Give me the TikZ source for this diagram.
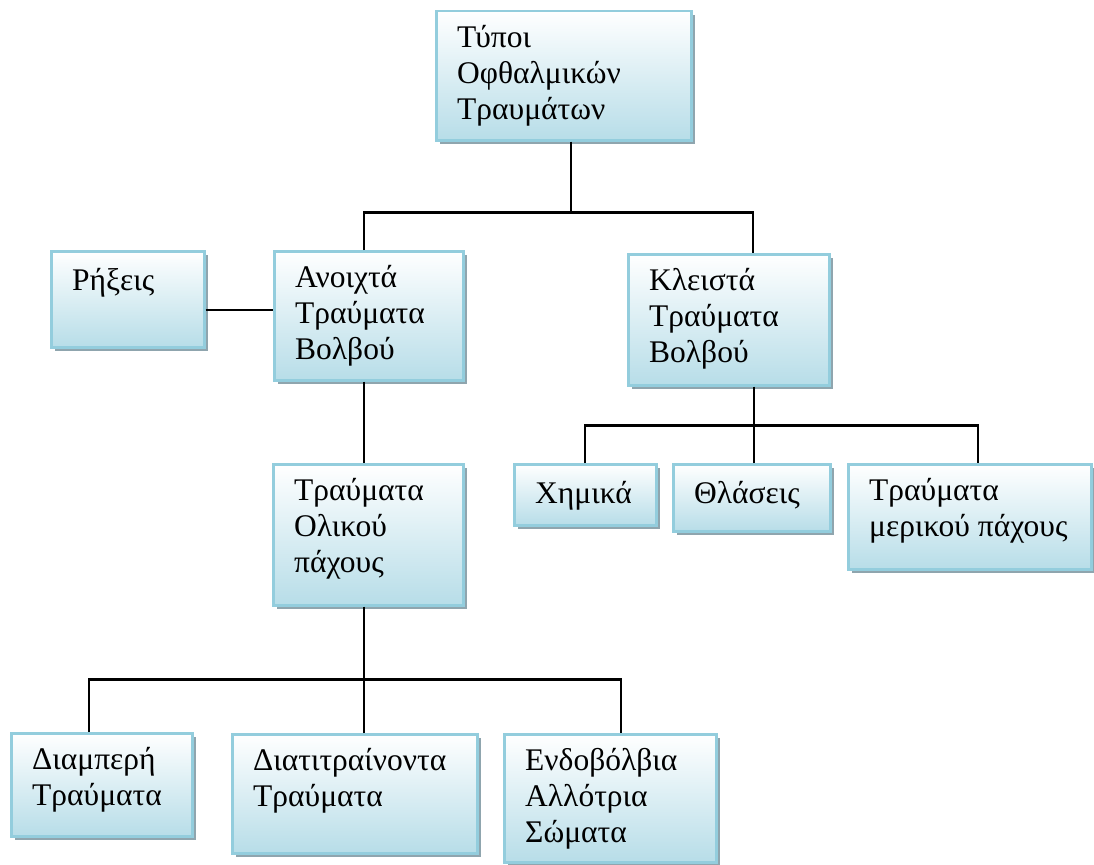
\documentclass[tikz,border=0pt]{standalone}
\usepackage{fontspec}
\setmainfont{Liberation Serif}
\usetikzlibrary{shadows}
\definecolor{boxline}{HTML}{93CDDD}
\definecolor{boxfill}{HTML}{B7DDE8}
\definecolor{boxshadow}{HTML}{8FA5AE}
\begin{document}
\begin{tikzpicture}[
    x=1pt, y=-1pt,
    box/.style={rectangle, draw=boxline, line width=2.5pt, top color=white, bottom color=boxfill, anchor=north west, inner sep=0pt,
        drop shadow={shadow xshift=4pt, shadow yshift=-4pt, fill=boxshadow, opacity=1}},
    txt/.style={anchor=north west, align=left, inner sep=0pt, xshift=22pt, yshift=-14.8pt,
        font=\fontsize{31.5}{36}\selectfont, execute at begin node={\rule{0pt}{25.2pt}}},
    link/.style={draw=black, line width=2.2pt}
]
\useasboundingbox (0,0) rectangle (1094,864);

% Root
\node[box, minimum width=255pt, minimum height=129pt, label={[txt]north west:Τύποι\\Οφθαλμικών\\Τραυμάτων}] (top) at (435,10) {};

% Second level
\node[box, minimum width=153pt, minimum height=96pt, label={[txt]north west:Ρήξεις}] (rupt) at (50,250) {};
\node[box, minimum width=189pt, minimum height=129pt, label={[txt]north west:Ανοιχτά\\Τραύματα\\Βολβού}] (open) at (273,250) {};
\node[box, minimum width=201pt, minimum height=131pt, label={[txt]north west:Κλειστά\\Τραύματα\\Βολβού}] (closed) at (627,253) {};

% Third level
\node[box, minimum width=190pt, minimum height=141pt, label={[txt]north west:Τραύματα\\Ολικού\\πάχους}] (full) at (272,463) {};
\node[box, minimum width=142pt, minimum height=61pt, label={[txt]north west:Χημικά}] (chem) at (513,463) {};
\node[box, minimum width=157pt, minimum height=67pt, label={[txt]north west:Θλάσεις}] (bruise) at (672,463) {};
\node[box, minimum width=243pt, minimum height=105pt, label={[txt]north west:Τραύματα\\μερικού πάχους}] (partial) at (847,463) {};

% Bottom level
\node[box, minimum width=181pt, minimum height=103pt, label={[txt]north west:Διαμπερή\\Τραύματα}] (perf) at (10,732) {};
\node[box, minimum width=245pt, minimum height=119pt, label={[txt]north west:Διατιτραίνοντα\\Τραύματα}] (pen) at (231,733) {};
\node[box, minimum width=212pt, minimum height=128pt, label={[txt]north west:Ενδοβόλβια\\Αλλότρια\\Σώματα}] (iofb) at (503,733) {};

% Connectors
\draw[link] ([xshift=7.5pt]top.south) -- ++(0,71) coordinate (bus1);
\draw[link] ([xshift=-4.5pt]open.north) |- (bus1) -| ([xshift=24.5pt]closed.north);
\draw[link] ([yshift=-11pt]rupt.east) -- ([yshift=5.5pt]open.west);
\draw[link] ([xshift=-4.5pt]open.south) -- ([xshift=-4pt]full.north);

\draw[link] ([xshift=25pt]closed.south) -- ++(0,39) coordinate (bus2);
\draw[link] (chem.north) |- (bus2) -| ([xshift=8.5pt]partial.north);
\draw[link] ([xshift=2pt]bruise.north) -- (bus2);

\draw[link] ([xshift=-4pt]full.south) -- ++(0,73) coordinate (bus3);
\draw[link] ([xshift=-12.5pt]perf.north) |- (bus3) -| ([xshift=11pt]iofb.north);
\draw[link] ([xshift=9.5pt]pen.north) -- (bus3);
\end{tikzpicture}
\end{document}
